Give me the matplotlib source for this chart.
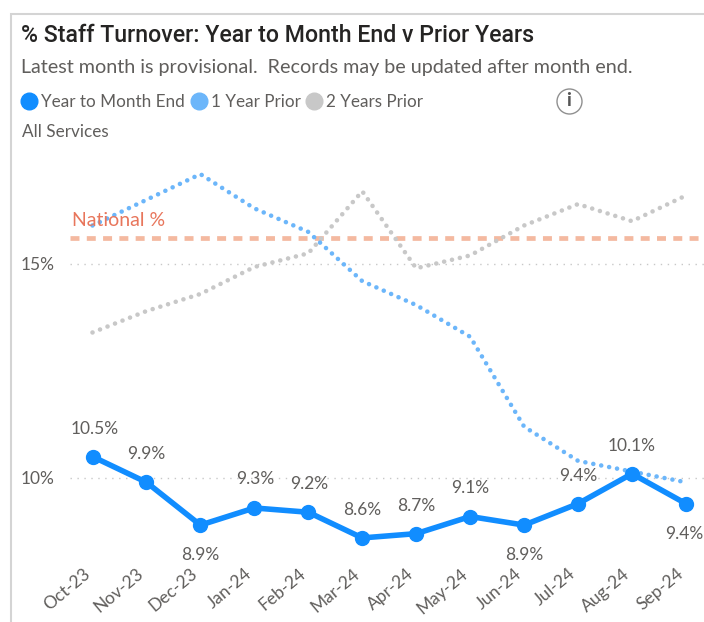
import matplotlib
matplotlib.use('Agg')
import matplotlib.pyplot as plt
from matplotlib.patches import Rectangle
from matplotlib.transforms import ScaledTranslation

months = ['Oct-23', 'Nov-23', 'Dec-23', 'Jan-24', 'Feb-24', 'Mar-24', 'Apr-24', 'May-24', 'Jun-24', 'Jul-24', 'Aug-24', 'Sep-24']
current = [10.5, 9.9, 8.9, 9.3, 9.2, 8.6, 8.7, 9.1, 8.9, 9.4, 10.1, 9.4]
labels = ['10.5%', '9.9%', '8.9%', '9.3%', '9.2%', '8.6%', '8.7%', '9.1%', '8.9%', '9.4%', '10.1%', '9.4%']
prior1 = [15.9, 16.5, 17.1, 16.3, 15.75, 14.6, 14.04, 13.3, 11.2, 10.4, 10.15, 9.9]
prior2 = [13.4, 13.9, 14.3, 14.93, 15.25, 16.7, 14.9, 15.2, 15.9, 16.4, 16.0, 16.6]
national = 15.6
yticks = [10, 15]
yticklabels = ['10%', '15%']

plt.rcParams['font.family'] = ['Lato', 'DejaVu Sans']
BLUE = '#118DFF'
LIGHT = '#6CB6FA'
GREY = '#C8C8C8'
TXT = '#605E5C'

W, H = 704, 622
fig = plt.figure(figsize=(W / 100, H / 100), dpi=100)

# plot area in pixels, left 70 to right edge, top 150 to bottom 560
ax = fig.add_axes([70 / W, (H - 560) / H, (W - 70) / W, (560 - 150) / H])
step = 53.95
ax.set_xlim((70 - 92.5) / step, (W - 92.5) / step)
ax.set_ylim(10 - (560 - 478) / 42.8, 10 + (478 - 150) / 42.8)
for s in ax.spines.values():
    s.set_visible(False)

x = list(range(len(months)))
ax.set_yticks(yticks)
ax.set_yticklabels(yticklabels, fontsize=12.5, color=TXT)
ax.set_xticks(x)
ax.set_xticklabels(months, fontsize=12.5, color=TXT, rotation=40, ha='right', rotation_mode='anchor')
ax.tick_params(length=0)
ax.tick_params(axis='y', pad=11)
ax.tick_params(axis='x', pad=4)
# month labels sit a bit left of their ticks
shift = ScaledTranslation(-10 / 100, 0, fig.dpi_scale_trans)
for lab in ax.get_xticklabels():
    lab.set_transform(lab.get_transform() + shift)
ax.grid(axis='y', color='#C8C8C8', lw=1, ls=(0, (1, 4)))
ax.set_axisbelow(True)

ax.axhline(national, color='#F4B9A0', lw=3.4, ls=(0, (1.9, 1.55)))
ax.annotate('National %', (0, national), xytext=(-15, 13), textcoords='offset points',
            fontsize=14, color='#E8765C', va='center', zorder=5)

ax.plot(x, prior2, color=GREY, lw=3.3, ls=(0, (0.01, 1.75)), dash_capstyle='round')
ax.plot(x, prior1, color=LIGHT, lw=3.3, ls=(0, (0.01, 1.75)), dash_capstyle='round')
ax.plot(x, current, color=BLUE, lw=4, marker='o', ms=10, clip_on=False)

# label offsets from the point, in pixels
offs = [(2, 28), (0, 28), (0, -30), (1, 29), (1, 28), (0, 28), (0, 28), (0, 29), (0, -30), (0, 28), (0, 28), (0, -30)]
for i, lab in enumerate(labels):
    ha = 'center'
    dx, dy = offs[i]
    if i == len(labels) - 1:
        ha = 'right'
        dx = 17
    ax.annotate(lab, (x[i], current[i]), xytext=(dx * 0.72, dy * 0.72), textcoords='offset points',
                ha=ha, va='center', fontsize=12.5, color=TXT, annotation_clip=False)

# card border
fig.add_artist(Rectangle((11 / W, -0.1), 1.2, (H - 14) / H + 0.1, transform=fig.transFigure,
                         fill=False, ec='#D4D4D4', lw=1.5))

def px(xv, yv):
    return xv / W, 1 - yv / H

fig.text(*px(21, 35), '% Staff Turnover: Year to Month End v Prior Years', fontsize=16.7, color='#252423',
         va='center', family=['Roboto', 'DejaVu Sans'], fontweight='medium')
fig.text(*px(21, 67), 'Latest month is provisional.  Records may be updated after month end.', fontsize=14.2,
         color=TXT, va='center')

for xv, c, t in [(29, BLUE, 'Year to Month End'), (199, LIGHT, '1 Year Prior'), (314, GREY, '2 Years Prior')]:
    fig.add_artist(plt.Line2D([xv / W], [1 - 101 / H], marker='o', ms=12, color=c, transform=fig.transFigure))
    fig.text(*px(xv + 12, 102), t, fontsize=12.3, color=TXT, va='center')

fig.add_artist(plt.Line2D([568.5 / W], [1 - 101 / H], marker='o', ms=18, mfc='white', mec='#909090', mew=1,
                          transform=fig.transFigure))
fig.text(*px(568.5, 101), 'i', fontsize=14, color='#555555', ha='center', va='center', fontweight='bold')
fig.text(*px(22, 132), 'All Services', fontsize=12.3, color=TXT, va='center')

fig.savefig('out.png', dpi=100)
